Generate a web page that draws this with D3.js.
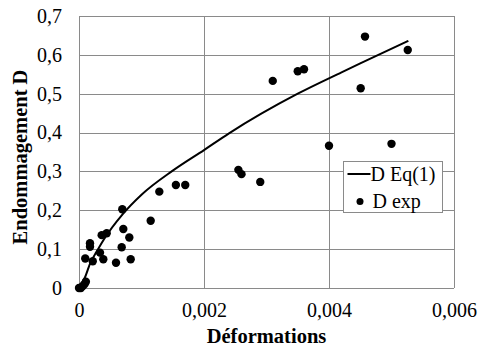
<!DOCTYPE html>
<html>
<head>
<meta charset="utf-8">
<script src="https://cdn.jsdelivr.net/npm/d3@7"></script>
<style>
  body { margin: 0; background: #fff; }
</style>
</head>
<body>
<svg id="chart" width="479" height="349"></svg>
<script>
// experimental points (strain, damage)
const expStrain = [0, 0.00003, 0.00006, 0.00009, 0.00011, 0.0001, 0.000176, 0.000176, 0.00022, 0.000336,
  0.000389, 0.000363, 0.000443, 0.000592, 0.000683, 0.000709, 0.000805, 0.000827, 0.000693, 0.001147,
  0.001285, 0.00155, 0.0017, 0.00255, 0.0026, 0.0029, 0.0031, 0.0035, 0.0036, 0.004576,
  0.00526, 0.004507, 0.004, 0.005];
const expDamage = [0, 0, 0.005, 0.01, 0.016, 0.076, 0.115, 0.106, 0.069, 0.091,
  0.074, 0.136, 0.141, 0.065, 0.105, 0.152, 0.130, 0.074, 0.2025, 0.173,
  0.248, 0.265, 0.265, 0.304, 0.293, 0.273, 0.533, 0.558, 0.563, 0.647,
  0.6125, 0.514, 0.366, 0.371];

// model curve D Eq(1)
const eqStrain = [0, 0.0001, 0.00018, 0.00028, 0.00039, 0.0007, 0.001, 0.0015, 0.002, 0.0024,
  0.0035, 0.0042, 0.0045, 0.00527];
const eqDamage = [0, 0.029, 0.064, 0.093, 0.123, 0.19, 0.24, 0.302, 0.355, 0.398,
  0.50, 0.555, 0.578, 0.636];

const xTicks = [0, 0.002, 0.004, 0.006];
const yTicks = [0, 0.1, 0.2, 0.3, 0.4, 0.5, 0.6, 0.7];

const serif = "Liberation Serif";

const svg = d3.select("#chart");
const margin = { left: 79, right: 25, top: 16, bottom: 61 };
const width = 479 - margin.left - margin.right;
const height = 349 - margin.top - margin.bottom;

const x = d3.scaleLinear().domain([0, 0.006]).range([0, width]);
const y = d3.scaleLinear().domain([0, 0.7]).range([height, 0]);

const fmt = d => d === 0 ? "0" : d3.format("")(d).replace(".", ",");

const g = svg.append("g").attr("transform", `translate(${margin.left},${margin.top})`);

// gridlines
g.append("g")
  .selectAll("line")
  .data(yTicks)
  .join("line")
  .attr("x1", 0).attr("x2", width)
  .attr("y1", d => Math.round(y(d)) + 0.5).attr("y2", d => Math.round(y(d)) + 0.5)
  .attr("stroke", "#8a8a8a");
g.append("g")
  .selectAll("line")
  .data(xTicks)
  .join("line")
  .attr("y1", 0).attr("y2", height)
  .attr("x1", d => Math.round(x(d)) + 0.5).attr("x2", d => Math.round(x(d)) + 0.5)
  .attr("stroke", "#8a8a8a");

// axes (labels only, Excel style)
const xAxis = g.append("g")
  .attr("transform", `translate(0,${height})`)
  .call(d3.axisBottom(x).tickValues(xTicks).tickFormat(fmt).tickSize(0).tickPadding(15));
const yAxis = g.append("g")
  .call(d3.axisLeft(y).tickValues(yTicks).tickFormat(fmt).tickSize(0).tickPadding(17));
[xAxis, yAxis].forEach(a => {
  a.attr("font-family", serif).attr("font-size", 20);
  a.select(".domain").remove();
});

// model curve
g.append("path")
  .datum(eqStrain.map((s, i) => [s, eqDamage[i]]))
  .attr("fill", "none")
  .attr("stroke", "#000")
  .attr("stroke-width", 2)
  .attr("d", d3.line().x(d => x(d[0])).y(d => y(d[1])).curve(d3.curveMonotoneX));

// experimental points
g.append("g")
  .selectAll("circle")
  .data(expStrain.map((s, i) => [s, expDamage[i]]))
  .join("circle")
  .attr("cx", d => x(d[0]))
  .attr("cy", d => y(d[1]))
  .attr("r", 4.2)
  .attr("fill", "#000");

// axis titles
svg.append("text")
  .attr("x", margin.left + width / 2)
  .attr("y", 343)
  .attr("text-anchor", "middle")
  .attr("font-family", serif)
  .attr("font-size", 20.5)
  .attr("font-weight", "bold")
  .text("Déformations");
svg.append("text")
  .attr("transform", `translate(27,157) rotate(-90)`)
  .attr("text-anchor", "middle")
  .attr("font-family", serif)
  .attr("font-size", 20.5)
  .attr("font-weight", "bold")
  .text("Endommagement D");

// legend
const lg = svg.append("g").attr("transform", "translate(343.5,161.5)")
  .attr("font-family", serif).attr("font-size", 20);
lg.append("rect")
  .attr("width", 99).attr("height", 51)
  .attr("fill", "#fff").attr("stroke", "#8a8a8a");
lg.append("line")
  .attr("x1", 4).attr("x2", 27).attr("y1", 12.5).attr("y2", 12.5)
  .attr("stroke", "#000").attr("stroke-width", 2);
lg.append("text").attr("x", 27).attr("y", 19).text("D Eq(1)");
lg.append("circle").attr("cx", 16.5).attr("cy", 40).attr("r", 3.5).attr("fill", "#000");
lg.append("text").attr("x", 29).attr("y", 46).text("D exp");
</script>
</body>
</html>
